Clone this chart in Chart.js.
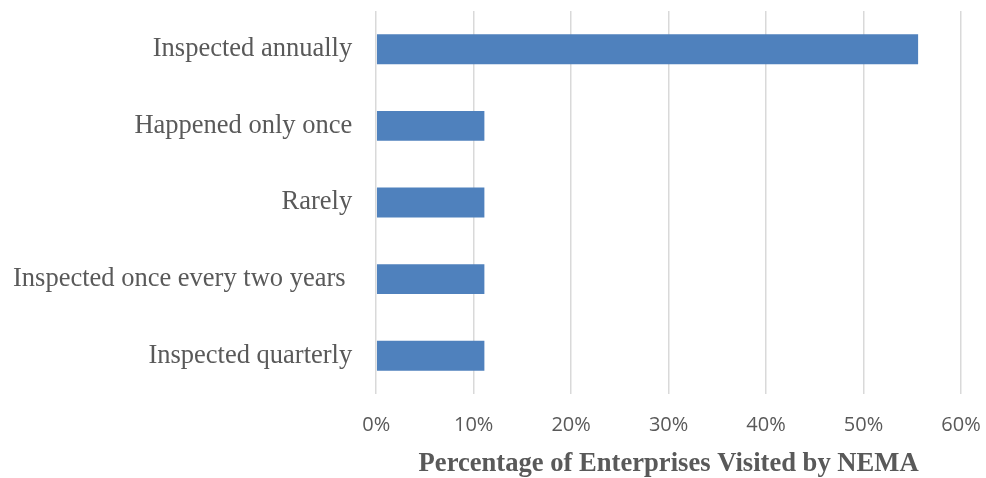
<!DOCTYPE html>
<html>
<head>
<meta charset="utf-8">
<script src="https://cdn.jsdelivr.net/npm/chart.js@4"></script>
<style>
  html, body { margin: 0; padding: 0; background: #fff; }
  #wrap { width: 986px; height: 478px; position: relative; }
</style>
</head>
<body>
<div id="wrap"><canvas id="visitChart"></canvas></div>
<script>
// survey answers: how often NEMA visited the enterprise
const categories = ['Inspected annually', 'Happened only once', 'Rarely', 'Inspected once every two years ', 'Inspected quarterly'];
const shares = [55.6, 11.1, 11.1, 11.1, 11.1];
const tickValues = [0, 10, 20, 30, 40, 50, 60];

const grey = '#595959';

// drop the extra space chart.js reserves for the end labels
const noEdgePadding = axis => {
    axis.paddingTop = 0; axis.paddingBottom = 0;
    axis.paddingLeft = 0; axis.paddingRight = 0;
};

const ctx = document.getElementById('visitChart').getContext('2d');
new Chart(ctx, {
    type: 'bar',
    data: {
        labels: categories,
        datasets: [{ data: shares, backgroundColor: '#4f81bd', barPercentage: 0.39, categoryPercentage: 1 }]
    },
    options: {
        indexAxis: 'y',
        responsive: true,
        maintainAspectRatio: false,
        animation: false,
        layout: { padding: { top: 11, right: 25, bottom: 0, left: 0 } },
        plugins: { legend: { display: false }, tooltip: { enabled: false } },
        scales: {
            x: {
                min: 0, max: 60,
                afterBuildTicks: axis => { axis.ticks = tickValues.map(v => ({ value: v })); },
                afterFit: axis => { noEdgePadding(axis); axis.height -= 18; },
                grid: { color: '#d9d9d9', lineWidth: 1.5, drawTicks: false },
                border: { display: false },
                ticks: { color: grey, padding: 19, font: { family: 'Open Sans', size: 20 }, callback: v => v + '%' },
                title: {
                    display: true,
                    text: 'Percentage of Enterprises Visited by NEMA',
                    color: grey,
                    font: { family: 'Liberation Serif', size: 26.6, weight: 'bold' },
                    padding: { top: 10, bottom: -2 }
                }
            },
            y: {
                afterFit: axis => { noEdgePadding(axis); axis.width -= 11; },
                grid: { display: false, drawTicks: false },
                border: { display: false },
                ticks: { color: grey, padding: 24, font: { family: 'Liberation Serif', size: 26.5 } }
            }
        }
    }
});
</script>
</body>
</html>
